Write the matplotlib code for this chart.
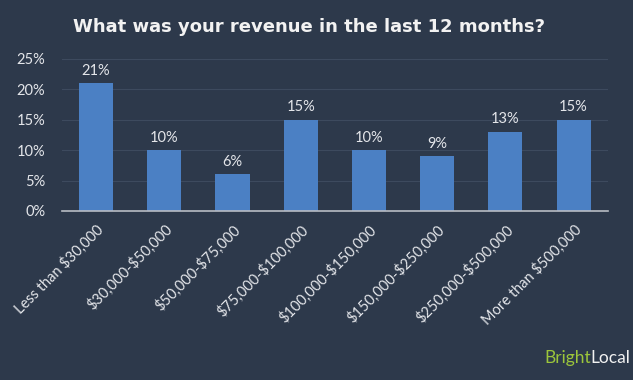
import matplotlib
matplotlib.use("Agg")
import matplotlib.pyplot as plt
from matplotlib.ticker import FuncFormatter

categories = ["Less than $30,000", "$30,000-$50,000", "$50,000-$75,000", "$75,000-$100,000",
              "$100,000-$150,000", "$150,000-$250,000", "$250,000-$500,000", "More than $500,000"]
values = [21, 10, 6, 15, 10, 9, 13, 15]
yticks = [0, 5, 10, 15, 20, 25]

plt.rcParams['font.family'] = ['Lato', 'DejaVu Sans']
plt.rcParams['text.parse_math'] = False
bg = '#2d394b'
txt = '#e4e6ea'

fig = plt.figure(figsize=(6.33, 3.8), dpi=100, facecolor=bg)
ax = fig.add_axes([0.098, 0.445, 0.862, 0.40], facecolor=bg)

x = range(len(categories))
bars = ax.bar(x, values, width=0.5, color='#4b80c4', zorder=3)
for xi, v in zip(x, values):
    ax.text(xi, v + 0.9, f"{v}%", ha='center', va='bottom', color=txt, fontsize=10.5)

ax.set_xlim(-0.5, len(categories) - 0.5)
ax.set_ylim(0, 25)
ax.set_yticks(yticks)
ax.yaxis.set_major_formatter(FuncFormatter(lambda v, p: f"{int(v)}%"))
ax.set_xticks(list(x))
ax.set_xticklabels(categories, rotation=45, ha='right', rotation_mode='anchor', fontsize=10.5, color=txt)
ax.tick_params(axis='y', colors=txt, labelsize=10.5, length=0, pad=12)
ax.tick_params(axis='x', length=0, pad=8)
ax.grid(axis='y', color='#3d4a5e', linewidth=0.8, zorder=0)
for s in ['top', 'right', 'left']:
    ax.spines[s].set_visible(False)
ax.spines['bottom'].set_color('#b8bcc4')
ax.spines['bottom'].set_linewidth(1.2)
ax.spines['bottom'].set_zorder(4)

fig.text(0.488, 0.930, "What was your revenue in the last 12 months?", ha='center', va='center',
         color='#f2f2f2', fontsize=13, fontweight='bold', family=['DejaVu Sans'])
fig.text(0.933, 0.058, "Bright", ha='right', va='center', color='#9cc63b', fontsize=12.5)
fig.text(0.933, 0.058, "Local", ha='left', va='center', color='#f2f2f2', fontsize=12.5)

fig.savefig("out.png", dpi=100, facecolor=bg)
